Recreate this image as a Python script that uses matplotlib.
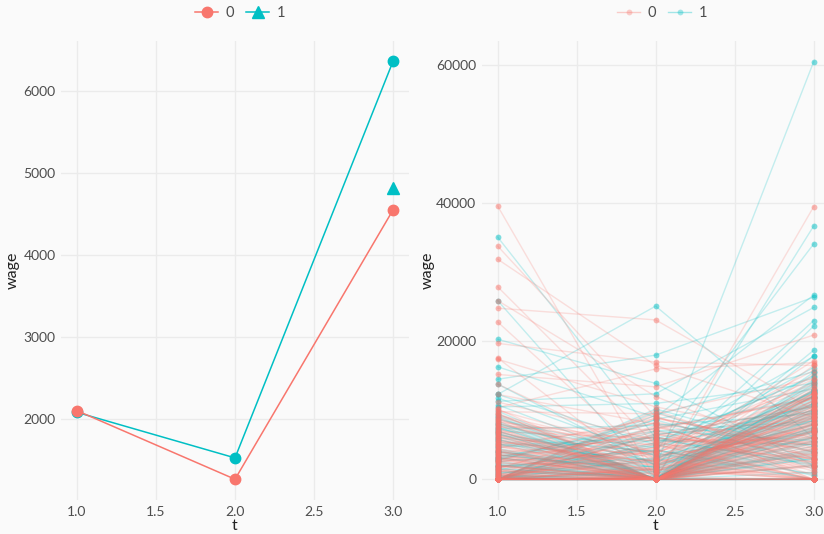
import matplotlib.pyplot as plt
from matplotlib.lines import Line2D

plt.rcParams['font.family'] = ['Lato', 'DejaVu Sans']

RED = '#F8766D'
TEAL = '#00BFC4'
BG = '#FAFAFA'
GRID = '#EBEBEB'
TXT = '#4D4D4D'

# left panel: group means
t_vals = [1.0, 2.0, 3.0]
mean_g0 = [2105, 1270, 4550]
mean_g1 = [2085, 1530, 6360]
tri_t = [3.0]
tri_wage = [4820]

# right panel: individual trajectories, group 0
t1_g0 = [39600, 33800, 31900, 27900, 25900, 24800, 22800, 19700, 17600, 17400,
         15200, 13800, 12300, 5000, 10400, 9800, 8500, 7600, 10200, 9300,
         8800, 8100, 7400, 6900, 6500, 6100, 5800, 5400, 5100, 4800,
         4500, 4200, 3900, 3600, 3400, 3100, 2900, 2700, 2500, 2300,
         2100, 1900, 1700, 1500, 1300, 1100, 900, 700, 500, 300,
         0, 0, 0, 0, 0, 0, 0, 0, 0, 0,
         0, 0, 0, 0, 0, 0, 0, 0, 0, 0,
         9600, 8300, 7100, 6300, 5600, 4100, 3300, 2600, 1800, 1200,
         10000, 7800, 6700, 5300, 4400, 3700, 2800, 2000, 1400, 800,
         600, 400, 200, 0, 0, 0, 0, 0, 0, 0,
         6200, 3800, 0, 8900, 1500, 4700, 0, 7300, 2400, 5500,
         0, 9100, 3200, 600, 6800, 0, 4000, 8000, 1000, 5900,
         2600, 0, 7000, 4300, 0, 9400, 1700, 3500, 0, 6400,
         11200, 0, 2000, 5000, 7700, 0, 3000, 8600, 400, 0]
t2_g0 = [0, 9000, 16500, 5000, 12000, 23100, 2000, 17000, 0, 10500,
         13400, 3000, 8000, 0, 16000, 9500, 0, 7200, 0, 4000,
         0, 2500, 0, 6000, 0, 1200, 0, 3500, 0, 0,
         8800, 0, 1500, 0, 5200, 0, 0, 700, 0, 2200,
         0, 0, 4600, 0, 0, 900, 0, 0, 3000, 0,
         0, 6500, 0, 1800, 0, 0, 0, 10000, 0, 0,
         2800, 0, 0, 0, 7600, 0, 400, 0, 0, 0,
         0, 5500, 0, 0, 2000, 0, 0, 9200, 0, 0,
         3800, 0, 0, 1000, 0, 0, 6800, 0, 0, 0,
         0, 0, 4200, 0, 0, 1500, 0, 0, 0, 0,
         3200, 6100, 4500, 1200, 8300, 2600, 5400, 0, 7100, 1900,
         9600, 3300, 0, 5900, 2100, 7800, 0, 4900, 6600, 1100,
         3900, 8900, 0, 2700, 5100, 600, 7400, 0, 4100, 2300,
         5700, 1600, 0, 8100, 3600, 6300, 0, 2900, 4700, 1400]
t3_g0 = [2000, 4000, 9000, 0, 3000, 10000, 8000, 16500, 0, 6000,
         20900, 12500, 0, 39500, 16900, 14600, 12500, 11800, 3500, 9000,
         0, 7500, 12000, 4500, 0, 10500, 2000, 6000, 11000, 0,
         5000, 8500, 0, 12200, 3000, 7000, 0, 9500, 4000, 0,
         11500, 2500, 6500, 0, 8000, 1000, 10800, 5500, 0, 7800,
         12000, 3000, 9800, 0, 6800, 11200, 4200, 2000, 8800, 10300,
         0, 5800, 12400, 7200, 1500, 9300, 0, 11000, 3800, 6200,
         8500, 0, 10000, 4800, 12500, 2800, 7500, 0, 9000, 5200,
         11800, 1800, 6000, 10500, 0, 8200, 3500, 12000, 4500, 7000,
         9500, 2200, 0, 11400, 5600, 8800, 13000, 3200, 10200, 6500,
         7000, 2500, 14500, 9800, 4000, 13200, 6100, 16500, 1200, 8900,
         3100, 11300, 15200, 5400, 10100, 600, 7900, 13800, 2400, 9200,
         12800, 4600, 8300, 17200, 0, 6900, 11600, 3700, 14100, 9600,
         5100, 12300, 8000, 2800, 15800, 10600, 4400, 7300, 13400, 0]

# group 1
t1_g1 = [35100, 25900, 20300, 12300, 14500, 3000, 2000, 6000, 16300, 11300,
         13800, 7000, 12300, 9000, 10500, 9500, 8700, 7900, 7300, 6600,
         6200, 5700, 5200, 4700, 4300, 3900, 3500, 3200, 2800, 2400,
         2100, 1800, 1500, 1200, 900, 600, 300, 0, 0, 0,
         0, 0, 0, 0, 0, 0, 0, 0, 0, 0,
         8200, 6900, 5500, 4100, 3300, 2600, 1600, 1000, 500, 0,
         0, 0, 0, 0, 0, 0, 9900, 7600, 4900, 2200,
         0, 0, 0, 0, 0, 0, 0, 0, 0, 0,
         5100, 0, 8400, 2900, 0, 6400, 1300, 10800, 0, 4500,
         7200, 0, 3600, 9200, 0, 1900, 5800, 0, 8000, 2600,
         0, 6700, 4000, 0, 11800, 700, 0, 3100, 7500, 0]
t2_g1 = [6000, 0, 13900, 25100, 18000, 1800, 0, 4000, 9000, 12400,
         2000, 0, 5000, 0, 11000, 0, 3500, 0, 7800, 0,
         0, 2200, 0, 5600, 0, 0, 1400, 0, 8600, 0,
         0, 4300, 0, 0, 2600, 0, 0, 6400, 0, 0,
         1000, 0, 0, 3200, 0, 0, 9800, 0, 0, 0,
         0, 1600, 0, 0, 7000, 0, 0, 500, 0, 0,
         4800, 0, 0, 0, 2900, 0, 0, 0, 6000, 0,
         0, 3800, 0, 0, 1200, 0, 0, 0, 0, 0,
         2700, 5300, 0, 7400, 1500, 3900, 6200, 2100, 8700, 0,
         4600, 9300, 1100, 0, 5800, 3000, 0, 7000, 2400, 4200,
         6600, 0, 1800, 10200, 3400, 5000, 0, 8100, 600, 2000]
t3_g1 = [2000, 13900, 2000, 6000, 26400, 60500, 36700, 34100, 26700, 24900,
         23000, 22200, 17800, 18700, 13900, 7500, 11000, 3000, 9500, 12800,
         0, 8000, 15500, 5000, 10200, 0, 12000, 6800, 2500, 14200,
         9000, 0, 11600, 4200, 7800, 13000, 0, 10500, 5600, 8800,
         3500, 12500, 0, 9200, 6400, 11800, 1500, 7200, 10800, 4800,
         0, 9600, 12200, 3000, 8400, 0, 11000, 6000, 13500, 2000,
         10000, 5200, 0, 7600, 12600, 8600, 0, 4000, 9900, 11400,
         6200, 0, 10600, 3800, 8000, 12900, 1000, 5400, 9400, 7000,
         9000, 14800, 3300, 11900, 6000, 16200, 500, 8500, 13100, 4400,
         10700, 15600, 7100, 12100, 2200, 9700, 17900, 5600, 12700, 800,
         8100, 14400, 11000, 3900, 6800, 15000, 9900, 4900, 13700, 7300]

fig = plt.figure(figsize=(8.24, 5.34), dpi=100, facecolor=BG)
ax1 = fig.add_axes([0.0743, 0.0635, 0.4218, 0.8605])
ax2 = fig.add_axes([0.5848, 0.0635, 0.4218, 0.8605])


def style(ax, ylab_x):
    ax.set_facecolor(BG)
    for s in ax.spines.values():
        s.set_visible(False)
    ax.grid(True, color=GRID, linewidth=1.0)
    ax.set_axisbelow(True)
    ax.tick_params(length=0, colors=TXT, labelsize=10, pad=4)
    ax.set_xlim(0.9, 3.1)
    ax.set_xticks([1.0, 1.5, 2.0, 2.5, 3.0])
    ax.set_xlabel('t', fontsize=11.5, color='#222222', labelpad=1)
    ax.set_ylabel('wage', fontsize=11.5, color='#222222')
    ax.yaxis.set_label_coords(ylab_x, 0.5)


# left panel
style(ax1, -0.118)
ax1.plot(t_vals, mean_g1, color=TEAL, lw=1.1, marker='o', ms=7.5, zorder=3)
ax1.plot(t_vals, mean_g0, color=RED, lw=1.1, marker='o', ms=7.5, zorder=4)
ax1.plot(tri_t, tri_wage, linestyle='none', marker='^', ms=8.5, color=TEAL, zorder=4)
ax1.set_ylim(1016, 6614)
ax1.set_yticks([2000, 3000, 4000, 5000, 6000])

h1 = [Line2D([], [], color=RED, lw=1.1, marker='o', ms=7.5),
      Line2D([], [], color=TEAL, lw=1.1, marker='^', ms=8.5)]
fig.legend(h1, ['0', '1'], loc='center', bbox_to_anchor=(240 / 824, 1 - 13 / 534),
           ncol=2, frameon=False, fontsize=10.5, handlelength=1.6, handletextpad=0.5,
           columnspacing=0.8, labelcolor=TXT)

# right panel
style(ax2, -0.136)
for a, b, c in zip(t1_g1, t2_g1, t3_g1):
    ax2.plot(t_vals, [a, b, c], color=TEAL, lw=1.0, alpha=0.22, zorder=2)
    ax2.plot(t_vals, [a, b, c], linestyle='none', marker='o', ms=4.2,
             color=TEAL, alpha=0.5, mec='none', zorder=3)
for a, b, c in zip(t1_g0, t2_g0, t3_g0):
    ax2.plot(t_vals, [a, b, c], color=RED, lw=1.0, alpha=0.22, zorder=2)
    ax2.plot(t_vals, [a, b, c], linestyle='none', marker='o', ms=4.2,
             color=RED, alpha=0.5, mec='none', zorder=3)
ax2.set_ylim(-3010, 63580)
ax2.set_yticks([0, 20000, 40000, 60000])

h2 = [Line2D([], [], color=RED, lw=1.0, alpha=0.35, marker='o', ms=4.2, mec='none'),
      Line2D([], [], color=TEAL, lw=1.0, alpha=0.35, marker='o', ms=4.2, mec='none')]
fig.legend(h2, ['0', '1'], loc='center', bbox_to_anchor=(662 / 824, 1 - 13 / 534),
           ncol=2, frameon=False, fontsize=10.5, handlelength=1.6, handletextpad=0.5,
           columnspacing=0.8, labelcolor=TXT)

fig.savefig('out.png', dpi=100, facecolor=BG)
